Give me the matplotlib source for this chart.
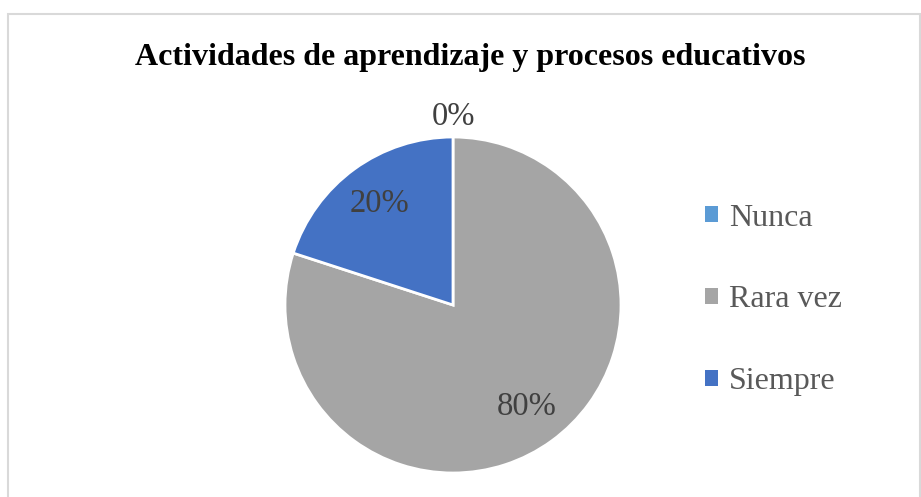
import matplotlib
matplotlib.use("Agg")
import matplotlib.pyplot as plt
import matplotlib.patches as mpatches
import numpy as np

# Chart data
categories = ["Nunca", "Rara vez", "Siempre"]
values = [0, 80, 20]
colors = ["#5B9BD5", "#A5A5A5", "#4472C4"]
title = "Actividades de aprendizaje y procesos educativos"

plt.rcParams["font.family"] = ["Liberation Serif", "DejaVu Serif"]

W, H = 921, 497
fig = plt.figure(figsize=(W / 100, H / 100), dpi=100)

# light gray frame (bottom edge runs off the image)
frame = mpatches.Rectangle((8 / W, -0.05), (920 - 8) / W, (H - 14) / H + 0.05,
                           transform=fig.transFigure, fill=False,
                           edgecolor="#D9D9D9", linewidth=1.5)
fig.patches.append(frame)

# pie axes: center (453, 305), radius 168 px
cx, cy, r = 453, 305, 168
ax = fig.add_axes([(cx - r) / W, (H - cy - r) / H, 2 * r / W, 2 * r / H])
wedges, _ = ax.pie(values, colors=colors, startangle=90, counterclock=False,
                   radius=1, wedgeprops=dict(edgecolor="white", linewidth=2))
ax.set_xlim(-1, 1)
ax.set_ylim(-1, 1)
ax.axis("off")

total = sum(values)
for w, v in zip(wedges, values):
    mid = np.deg2rad((w.theta1 + w.theta2) / 2)
    d = 0.745 if v > 0 else 1.12
    ax.text(d * np.cos(mid), d * np.sin(mid), f"{v / total * 100:.0f}%",
            ha="center", va="center", fontsize=23.5, color="#404040", clip_on=False)

fig.text(470 / W, 1 - 57 / H, title, ha="center", va="center",
         fontsize=23, fontweight="bold", color="black")

handles = [mpatches.Patch(facecolor=c, edgecolor="none") for c in colors]
leg = fig.legend(handles, categories, loc="center left",
                 bbox_to_anchor=(705 / W, 1 - 300 / H), frameon=False,
                 fontsize=23, labelcolor="#595959", handlelength=0.4,
                 handleheight=0.4, handletextpad=0.35, labelspacing=1.65,
                 borderpad=0, borderaxespad=0)

fig.savefig("out.png", dpi=100)
